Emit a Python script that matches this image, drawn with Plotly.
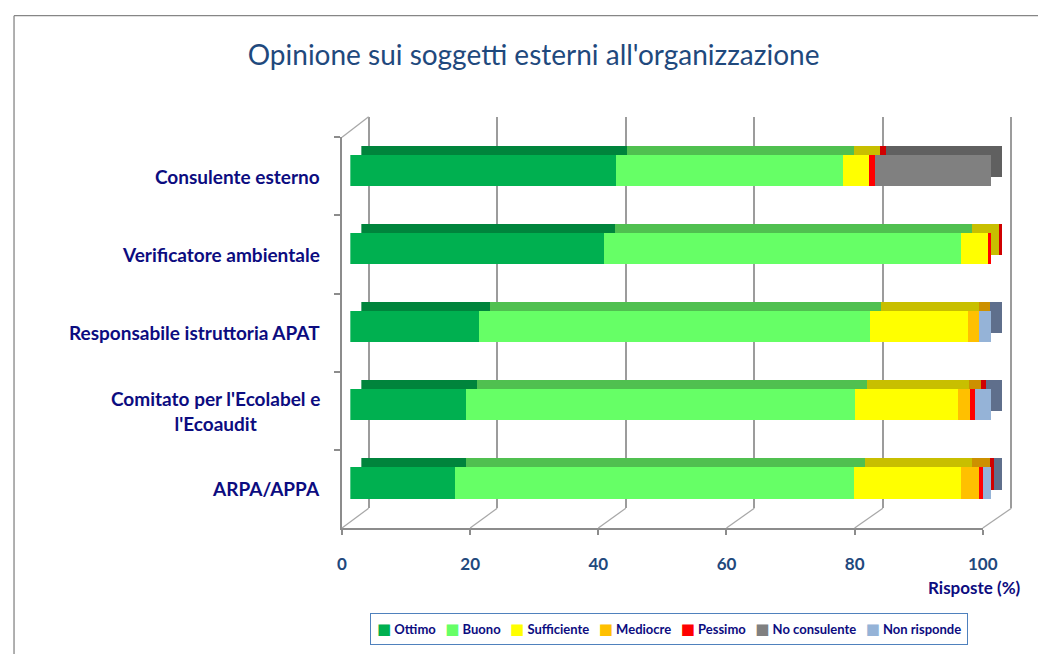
import plotly.graph_objects as go

# ---------------- data ----------------
categories = ["Consulente esterno", "Verificatore ambientale", "Responsabile istruttoria APAT",
              "Comitato per l'Ecolabel e l'Ecoaudit", "ARPA/APPA"]
category_labels = ["Consulente esterno", "Verificatore ambientale", "Responsabile istruttoria APAT",
                   "Comitato per l'Ecolabel e<br>l'Ecoaudit", "ARPA/APPA"]
series_names = ["Ottimo", "Buono", "Sufficiente", "Mediocre", "Pessimo", "No consulente", "Non risponde"]
ottimo = [41.5, 39.6, 20.0, 18.0, 16.3]
buono = [35.4, 55.7, 61.1, 60.8, 62.3]
sufficiente = [4.0, 4.1, 15.2, 16.0, 16.7]
mediocre = [0.0, 0.0, 1.8, 1.8, 2.7]
pessimo = [0.9, 0.6, 0.0, 0.8, 0.7]
no_consulente = [18.2, 0.0, 0.0, 0.0, 0.0]
non_risponde = [0.0, 0.0, 1.9, 2.6, 1.3]
series_values = [ottimo, buono, sufficiente, mediocre, pessimo, no_consulente, non_risponde]
x_ticks = [0, 20, 40, 60, 80, 100]

# ---------------- styles ----------------
front_colors = ["#00B050", "#66FF66", "#FFFF00", "#FFC000", "#FF0000", "#808080", "#95B3D7"]
top_colors = ["#00843C", "#50C050", "#C8BF00", "#CC9000", "#D00000", "#606060", "#5F6F8C"]
NAVY = "#0C0C80"
STEEL = "#1F497D"
FONT = "Lato"
GRID = "#9C9C9C"

W, H = 1046, 646
# measured page -> picture mapping (horizontal): picture_x = 13.08 + 0.97969 * figure_x
PX0, PXK = 13.08, 0.97969
OFF_Y = 8


def fx(px):
    return ((px - PX0) / PXK) / W


def fy(py):
    return 1 - (py - OFF_Y) / H


# pixel geometry of the pseudo-3D box (target picture pixels)
FRONT_X0, FRONT_X1 = 341.7, 981.7       # floor front edge (0..100)
BACK_X0, BACK_X1 = 368.3, 1010.3        # back wall (0..100)
FRONT_Y0, FRONT_Y1 = 137.3, 528.0       # category band (front)
BACK_Y0, BACK_Y1 = 116.7, 508.3         # back wall vertical extent
PAD = 0.5                               # keeps the 0 and 100 gridlines inside the range
bpx = (BACK_X1 - BACK_X0) / 100

fig = go.Figure()

# invisible helper so that the back-wall grid axis gets its own subplot
fig.add_trace(go.Bar(y=categories, x=ottimo, orientation="h", opacity=0,
                     marker=dict(color="rgba(0,0,0,0)", line=dict(width=0)),
                     showlegend=False, hoverinfo="skip", xaxis="x", yaxis="y"))

# back copies (pseudo-3D top / side faces)
for name, vals, col in zip(series_names, series_values, top_colors):
    fig.add_trace(go.Bar(
        y=categories, x=vals, orientation="h", name=name,
        marker=dict(color=col, line=dict(width=0)),
        width=0.4, offset=-0.392, showlegend=False, hoverinfo="skip",
        xaxis="x2", yaxis="y3"))

# front faces
for name, vals, col in zip(series_names, series_values, front_colors):
    fig.add_trace(go.Bar(
        y=categories, x=vals, orientation="h", name=name,
        marker=dict(color=col, line=dict(width=0)),
        width=0.4, offset=-0.277, showlegend=False,
        xaxis="x3", yaxis="y3"))

# invisible helper for the floor axis subplot
fig.add_trace(go.Bar(y=categories, x=ottimo, orientation="h", opacity=0,
                     marker=dict(color="rgba(0,0,0,0)", line=dict(width=0)),
                     showlegend=False, hoverinfo="skip", xaxis="x4", yaxis="y3"))

fig.update_layout(
    width=W, height=H, autosize=False,
    margin=dict(l=0, r=0, t=0, b=0, pad=0),
    paper_bgcolor="white", plot_bgcolor="rgba(0,0,0,0)",
    barmode="stack", showlegend=False,
    title=dict(text="Opinione sui soggetti esterni all'organizzazione",
               font=dict(family=FONT, size=28, color=STEEL),
               x=fx(528), y=fy(55), xref="container", yref="container",
               xanchor="center", yanchor="middle"),
    # back-wall gridlines
    xaxis=dict(domain=[fx(BACK_X0 - PAD * bpx), fx(BACK_X1 + PAD * bpx)], range=[-PAD, 100 + PAD],
               tickvals=x_ticks,
               showgrid=True, gridcolor=GRID, gridwidth=2, zeroline=False,
               showticklabels=False, ticks="", showline=False, anchor="y", fixedrange=True),
    yaxis=dict(domain=[fy(BACK_Y1), fy(BACK_Y0)], type="category", range=[-0.5, 4.5],
               visible=False, fixedrange=True),
    # back copy bars
    xaxis2=dict(domain=[fx(361), fx(1001.3)], range=[0, 100], visible=False, anchor="y3",
                fixedrange=True),
    # front bars
    xaxis3=dict(domain=[fx(350), fx(990.3)], range=[0, 100], visible=False, anchor="y3",
                fixedrange=True),
    # front frame (floor)
    xaxis4=dict(domain=[fx(FRONT_X0), fx(FRONT_X1)], range=[0, 100], tickvals=x_ticks,
                showgrid=False, zeroline=False, showline=True, linecolor="#8C8C8C", linewidth=1.5,
                ticks="outside", ticklen=5, tickcolor="#8C8C8C", tickwidth=1.5,
                ticklabelstandoff=15,
                tickfont=dict(family=FONT, size=17, color=STEEL, weight="bold"),
                anchor="y3", fixedrange=True),
    yaxis3=dict(domain=[fy(FRONT_Y1), fy(FRONT_Y0)], type="category", categoryarray=categories,
                categoryorder="array",
                range=[4.5, -0.5], showgrid=False, zeroline=False,
                showline=True, linecolor="#8C8C8C", linewidth=1.5,
                ticks="outside", ticklen=6, tickcolor="#8C8C8C", tickwidth=1.5,
                tickson="boundaries", showticklabels=False, anchor="x4", fixedrange=True),
)

# floor connectors between the front ticks and the back-wall gridlines, and wall top edge
for t in x_ticks:
    xf = FRONT_X0 + (FRONT_X1 - FRONT_X0) * t / 100
    xb = BACK_X0 + (BACK_X1 - BACK_X0) * t / 100
    fig.add_shape(type="line", xref="paper", yref="paper", x0=fx(xf), y0=fy(FRONT_Y1),
                  x1=fx(xb), y1=fy(BACK_Y1), line=dict(color="#A8A8A8", width=1.3))
fig.add_shape(type="line", xref="paper", yref="paper", x0=fx(FRONT_X0), y0=fy(FRONT_Y0),
              x1=fx(BACK_X0), y1=fy(BACK_Y0), line=dict(color="#A8A8A8", width=1.3))

# category labels (centred multi-line like the original)
for cat, lab in zip(categories, category_labels):
    fig.add_annotation(x=fx(322), xref="paper", xanchor="right", y=cat, yref="y3",
                       yanchor="middle", text=lab, showarrow=False, align="center",
                       font=dict(family=FONT, size=19, color=NAVY, weight="bold"))

# axis title
fig.add_annotation(x=fx(1022), xref="paper", xanchor="right", y=fy(587), yref="paper",
                   yanchor="middle", text="Risposte (%)", showarrow=False,
                   font=dict(family=FONT, size=17, color=NAVY, weight="bold"))

# legend box (series names with their colour keys)
legend_parts = []
for name, col in zip(series_names, front_colors):
    legend_parts.append('<span style="color:%s;font-family:DejaVu Sans;font-size:15px">\u25A0</span> %s'
                        % (col, name))
fig.add_annotation(x=fx(668), xref="paper", xanchor="center", y=fy(629.4), yref="paper",
                   yanchor="middle", text="   ".join(legend_parts), showarrow=False,
                   bgcolor="white", bordercolor="#4F81BD", borderwidth=1, borderpad=6,
                   font=dict(family=FONT, size=13, color=NAVY, weight="bold"))

# outer chart border (top and left edges visible in the crop)
fig.add_shape(type="line", xref="paper", yref="paper", x0=0.001, x1=0.001,
              y0=-0.05, y1=fy(15.7), line=dict(color="#868686", width=1.3))
fig.add_shape(type="line", xref="paper", yref="paper", x0=0.001, x1=1.05,
              y0=fy(15.7), y1=fy(15.7), line=dict(color="#868686", width=1.3))

fig.write_html("out.html")
